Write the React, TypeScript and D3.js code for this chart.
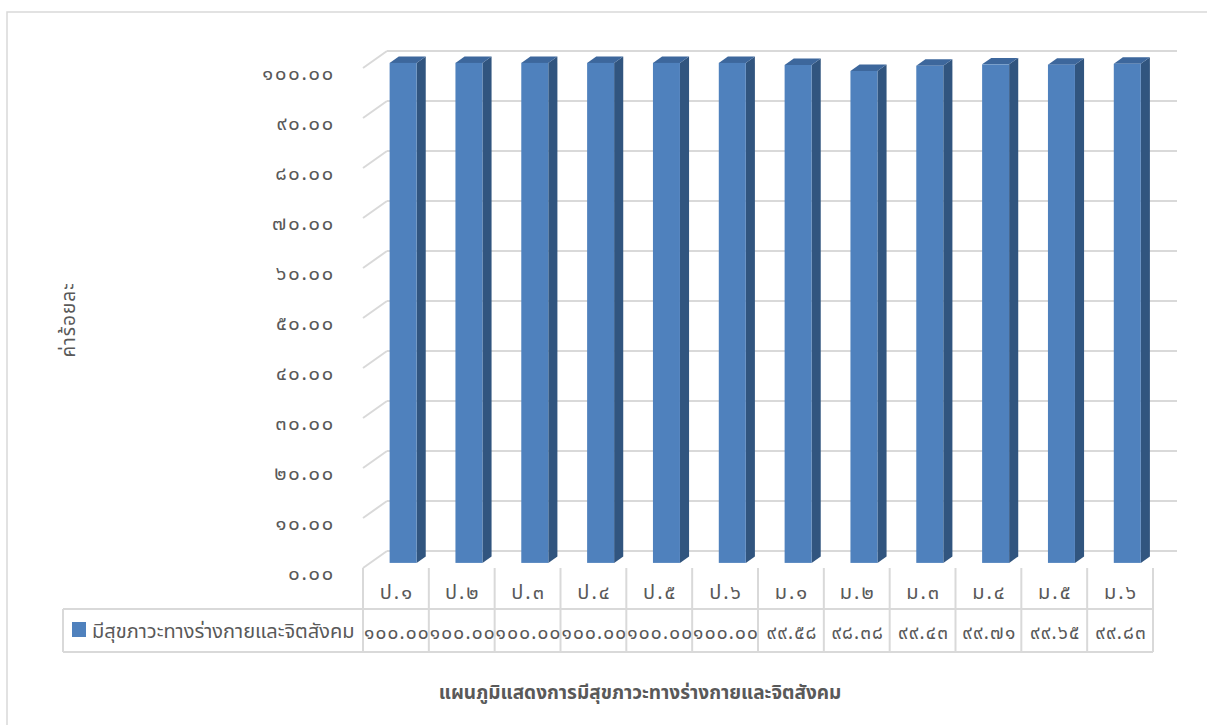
import React from "react";
import * as d3 from "d3";

const categories = ["ป.๑", "ป.๒", "ป.๓", "ป.๔", "ป.๕", "ป.๖", "ม.๑", "ม.๒", "ม.๓", "ม.๔", "ม.๕", "ม.๖"];
const values = [100, 100, 100, 100, 100, 100, 99.58, 98.38, 99.43, 99.71, 99.65, 99.83];
const seriesName = "มีสุขภาวะทางร่างกายและจิตสังคม";
const yTicks = [0, 10, 20, 30, 40, 50, 60, 70, 80, 90, 100];
const yTitle = "ค่าร้อยละ";
const chartTitle = "แผนภูมิแสดงการมีสุขภาวะทางร่างกายและจิตสังคม";

const thaiDigits = "๐๑๒๓๔๕๖๗๘๙";
const toThai = (s: string) => s.replace(/[0-9]/g, (c) => thaiDigits[+c]);
const fmt = (v: number) => toThai(d3.format(".2f")(v));

const FONT = "'Noto Sans Thai', 'Leelawadee UI', Tahoma, 'Noto Sans', sans-serif";
const GRID = "#D9D9D9";
const TXT = "#595959";

export default function App() {
  const left = 363, right = 1153, top = 68, bottom = 568;
  const depth = { dx: 24, dy: -17 };
  const x = d3.scaleBand<string>().domain(categories).range([left, right]);
  const y = d3.scaleLinear().domain([0, 100]).range([bottom, top]);
  const bw = x.bandwidth();
  const barW = 27;
  const t0 = 0.3, t1 = 0.68;
  const rowH1 = 609, rowH2 = 652;

  return (
    <svg width={1207} height={725} style={{ position: "absolute", left: 0, top: 0 }} fontFamily={FONT}>
      <rect x={0} y={0} width={1207} height={725} fill="#fff" />
      <rect x={7} y={12} width={1240} height={760} fill="none" stroke={GRID} strokeWidth={1.5} />
      {/* gridlines: back wall + side wall */}
      {yTicks.map((t) => (
        <g key={t}>
          <line x1={left + depth.dx} x2={right + depth.dx} y1={y(t) + depth.dy} y2={y(t) + depth.dy} stroke={GRID} strokeWidth={2} />
          <line x1={left} x2={left + depth.dx} y1={y(t)} y2={y(t) + depth.dy} stroke={GRID} strokeWidth={2} />
          <text x={335} y={y(t) + 4} dy="0.38em" textAnchor="end" fontSize={20} letterSpacing={1.8} fill={TXT}>{fmt(t)}</text>
        </g>
      ))}
      {/* bars */}
      {categories.map((c, i) => {
        const cx = x(c)! + bw / 2;
        const fx = cx - barW / 2 + depth.dx * t0;
        const fy0 = y(0) + depth.dy * t0;
        const fy1 = y(values[i]) + depth.dy * t0;
        const ddx = depth.dx * (t1 - t0), ddy = depth.dy * (t1 - t0);
        const side = `M${fx + barW},${fy1} L${fx + barW + ddx},${fy1 + ddy} L${fx + barW + ddx},${fy0 + ddy} L${fx + barW},${fy0} Z`;
        const topF = `M${fx},${fy1} L${fx + ddx},${fy1 + ddy} L${fx + barW + ddx},${fy1 + ddy} L${fx + barW},${fy1} Z`;
        return (
          <g key={c}>
            <path d={side} fill="#31557F" />
            <path d={topF} fill="#3D679C" />
            <rect x={fx} y={fy1} width={barW} height={fy0 - fy1} fill="#4F81BD" />
          </g>
        );
      })}
      {/* data table */}
      <g stroke={GRID} strokeWidth={2} fill="none">
        {categories.map((c) => (
          <line key={c} x1={x(c)!} x2={x(c)!} y1={bottom} y2={rowH2} />
        ))}
        <line x1={right} x2={right} y1={bottom} y2={rowH2} />
        <line x1={63} x2={right} y1={rowH1} y2={rowH1} />
        <line x1={63} x2={right} y1={rowH2} y2={rowH2} />
        <line x1={63} x2={63} y1={rowH1} y2={rowH2} />
      </g>
      {categories.map((c, i) => (
        <g key={c}>
          <text x={x(c)! + bw / 2 + 1} y={(bottom + rowH1) / 2 + 3} dy="0.38em" textAnchor="middle" fontSize={20} letterSpacing={2} fill={TXT}>{c}</text>
          <text x={x(c)! + bw / 2 + 1} y={(rowH1 + rowH2) / 2 + 1} dy="0.38em" textAnchor="middle" fontSize={19} letterSpacing={1.2} fill={TXT}>{fmt(values[i])}</text>
        </g>
      ))}
      <rect x={72} y={622} width={14} height={15} fill="#4F81BD" />
      <text x={92} y={630} dy="0.38em" fontSize={20} fill={TXT}>{seriesName}</text>
      {/* axis title */}
      <text transform="translate(68,320) rotate(-90)" textAnchor="middle" dy="0.38em" fontSize={19} letterSpacing={1} fill={TXT}>{yTitle}</text>
      {/* chart title */}
      <text x={640} y={692} dy="0.38em" textAnchor="middle" fontSize={19} fontWeight="bold" fill={TXT}>{chartTitle}</text>
    </svg>
  );
}
